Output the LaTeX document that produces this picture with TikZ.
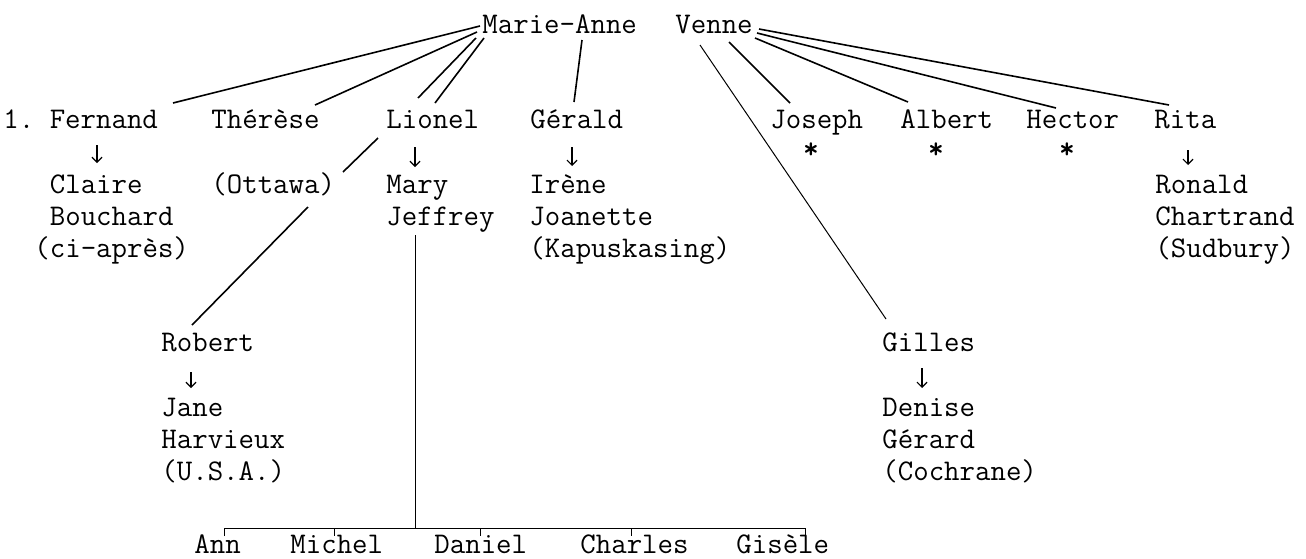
\documentclass[tikz,border=0pt]{standalone}
\usetikzlibrary{arrows.meta,calc}
\tikzset{
  person/.style  = {font=\ttfamily\fontsize{15}{16}\selectfont, inner sep=0pt, anchor=base west},
  star/.style    = {font=\ttfamily\bfseries\fontsize{15}{16}\selectfont, inner sep=0pt, anchor=base},
  link/.style    = {line width=0.8pt},
  fine/.style    = {line width=0.5pt},
  descent/.style = {-{Straight Barb[length=2.5pt,width=5pt]}, line width=0.6pt},
}
\newcommand{\stackrows}[1]{\begin{tabular}[t]{@{}l@{}}#1\end{tabular}}

\begin{document}
\begin{tikzpicture}[x=0.5pt,y=-0.5pt]
  \useasboundingbox (0,0) rectangle (1306,558);
  % parents
  \node[person] (ma) at (482,33) {Marie-Anne};
  \node[person] (ve) at (675,33) {Venne};
  % first row of children
  \node[person] (fe) at (3,128)    {1.~Fernand};
  \node[person] (th) at (211,128)  {Thérèse};
  \node[person] (li) at (386,128)  {Lionel};
  \node[person] (ge) at (530,128)  {Gérald};
  \node[person] (jo) at (770,128)  {Joseph};
  \node[person] (al) at (900,128)  {Albert};
  \node[person] (he) at (1026,128) {Hector};
  \node[person] (ri) at (1154,128) {Rita};
  \node[star] (s1) at (811,158)  {*};
  \node[star] (s2) at (936,158)  {*};
  \node[star] (s3) at (1067,158) {*};
  % spouses
  \node[person] (cl) at (34,193)   {\stackrows{\hphantom{(}Claire\\ \hphantom{(}Bouchard\\ (ci-après)}};
  \node[person] (ot) at (211,193)  {(Ottawa)};
  \node[person] (mj) at (386,193)  {\stackrows{Mary\\ Jeffrey}};
  \node[person] (ir) at (529,193)  {\stackrows{Irène\\ Joanette\\ (Kapuskasing)}};
  \node[person] (rn) at (1155,193) {\stackrows{Ronald\\ Chartrand\\ (Sudbury)}};
  \node[person] (ro) at (161,351)  {Robert};
  \node[person] (jh) at (161,416)  {\stackrows{Jane\\ Harvieux\\ (U.S.A.)}};
  \node[person] (gi) at (882,351)  {Gilles};
  \node[person] (dg) at (882,416)  {\stackrows{Denise\\ Gérard\\ (Cochrane)}};
  % grandchildren
  \node[person] (an) at (194,553) {Ann};
  \node[person] (mi) at (290,553) {Michel};
  \node[person] (da) at (434,553) {Daniel};
  \node[person] (ch) at (580,553) {Charles};
  \node[person] (gs) at (736,553) {Gisèle};

  % lines from Marie-Anne
  \draw[link] ([shift={(-2,-7)}]ma.base west) -- ([shift={(170,-25)}]fe.base west);
  \draw[link] ([shift={(-5,-1)}]ma.base west) -- ([shift={(104,-23)}]th.base west);
  \draw[link] ([shift={(-6,5)}]ma.base west) -- ([shift={(32,-30)}]li.base west);
  \draw[link] ([shift={(2,5)}]ma.base west) -- ([shift={(49,-25)}]li.base west);
  \draw[link] ([shift={(100,7)}]ma.base west) -- ([shift={(44,-26)}]ge.base west);
  % lines from Venne
  \draw[fine] ([shift={(25,12)}]ve.base west) -- ([shift={(4,-32)}]gi.base west);
  \draw[link] ([shift={(54,9)}]ve.base west) -- ([shift={(20,-25)}]jo.base west);
  \draw[link] ([shift={(80,5)}]ve.base west) -- ([shift={(8,-26)}]al.base west);
  \draw[link] ([shift={(82,0)}]ve.base west) -- ([shift={(30,-20)}]he.base west);
  \draw[link] ([shift={(84,-4)}]ve.base west) -- ([shift={(15,-23)}]ri.base west);
  % Lionel to Robert, broken at (Ottawa)
  \coordinate (cut1) at (343,172);
  \coordinate (cut2) at (308,207);
  \draw[link] ([shift={(-8,10)}]li.base west) -- (cut1);
  \draw[link] (cut2) -- ([shift={(31,-26)}]ro.base west);
  % marriages
  \draw[descent] ([shift={(94,17)}]fe.base west) -- ([shift={(63,-30)}]cl.base west);
  \draw[descent] ([shift={(29,19)}]li.base west) -- ([shift={(29,-26)}]mj.base west);
  \draw[descent] ([shift={(42,19)}]ge.base west) -- ([shift={(43,-27)}]ir.base west);
  \draw[descent] ([shift={(34,22)}]ri.base west) -- ([shift={(33,-28)}]rn.base west);
  \draw[descent] ([shift={(30,21)}]ro.base west) -- ([shift={(30,-28)}]jh.base west);
  \draw[descent] ([shift={(40,17)}]gi.base west) -- ([shift={(40,-28)}]dg.base west);
  % children of Lionel and Mary
  \coordinate (bar) at ([shift={(0,-25)}]an.base west);
  \draw[fine] ([shift={(29,42)}]mj.base west) coordinate (mjfoot) -- (mjfoot |- bar);
  \draw[fine] ([shift={(30,-17)}]an.base west) -- ([shift={(30,-25)}]an.base west)
    -- ([shift={(69,-25)}]gs.base west) -- ([shift={(69,-17)}]gs.base west);
  \draw[fine] ([shift={(44,-25)}]mi.base west) -- ([shift={(44,-17)}]mi.base west);
  \draw[fine] ([shift={(46,-25)}]da.base west) -- ([shift={(46,-17)}]da.base west);
  \draw[fine] ([shift={(51,-25)}]ch.base west) -- ([shift={(51,-17)}]ch.base west);
\end{tikzpicture}
\end{document}
